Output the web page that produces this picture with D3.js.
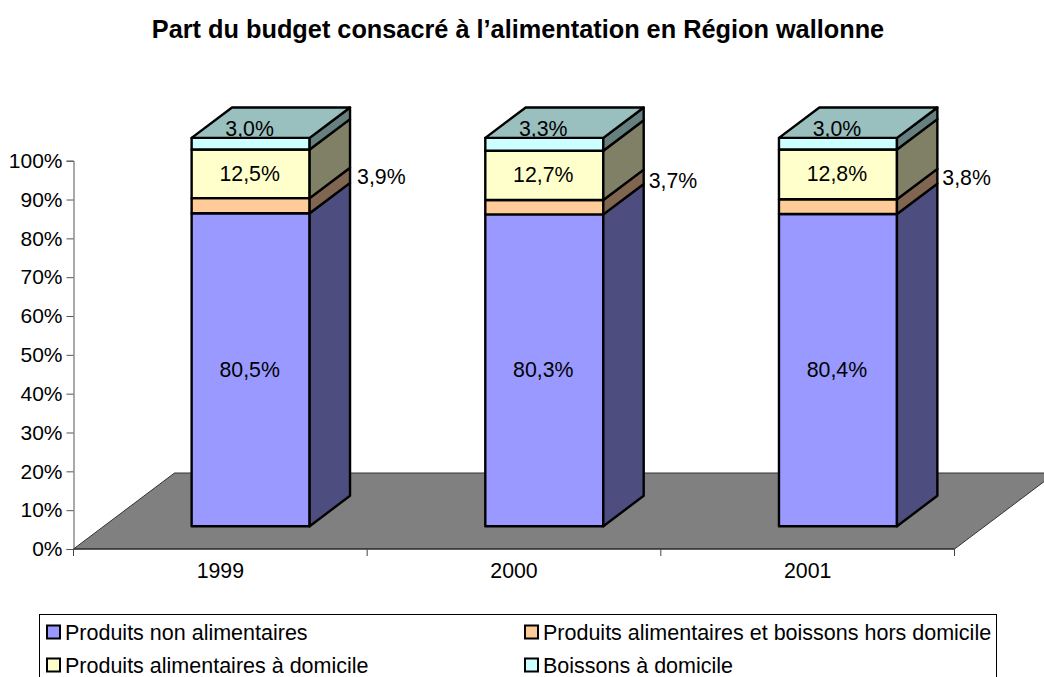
<!DOCTYPE html>
<html><head><meta charset="utf-8">
<script src="https://cdnjs.cloudflare.com/ajax/libs/d3/7.8.5/d3.min.js"></script>
<style>html,body{margin:0;padding:0;background:#fff;overflow:hidden}svg{display:block}text{font-family:"Liberation Sans",Arial,sans-serif;fill:#000}</style>
</head><body><svg id="c" width="1044" height="677"></svg>
<script>
const title = "Part du budget consacré à l’alimentation en Région wallonne";
const years = ["1999","2000","2001"];
const seriesNames = ["Produits non alimentaires","Produits alimentaires et boissons hors domicile","Produits alimentaires à domicile","Boissons à domicile"];
const nonAlim = [80.5,80.3,80.4];
const horsDomicile = [3.9,3.7,3.8];
const aDomicile = [12.5,12.7,12.8];
const boissons = [3.0,3.3,3.0];
const frontColors = ["#9999FF","#FFCC99","#FFFFCC","#CCFFFF"];
const sideColors = ["#4D4D80","#806650","#808066","#668080"];
const topColor = "#99BFBF";
const yTicks = [0,10,20,30,40,50,60,70,80,90,100];

const svg = d3.select("#c");
const FS="21.3px";
const fmt = v => v.toFixed(1).replace(".",",")+"%";
const rows = years.map((y,i)=>({year:y,s0:nonAlim[i],s1:horsDomicile[i],s2:aDomicile[i],s3:boissons[i]}));
const stack = d3.stack().keys(["s0","s1","s2","s3"]).offset(d3.stackOffsetExpand)(rows);

const x = d3.scaleBand().domain(years).range([73.5,954.5]).paddingInner(0).paddingOuter(0);
const y = d3.scaleLinear().domain([0,1]).range([549,160.7]);
const DX=101, DY=76;
const d0=0.30, d1=0.70;
const barW=118;
const px=(xv,d)=>xv+d*DX, py=(v,d)=>y(v)-d*DY;
const L=c=>x(c)+x.bandwidth()/2-barW/2, R=c=>L(c)+barW;

svg.append("text").attr("x",518).attr("y",38).attr("text-anchor","middle")
  .style("font-size","25.3px").style("font-weight","bold").text(title);

// floor
const fl=d3.line()([[px(73.5,0),py(0,0)],[px(73.5,1),py(0,1)],[px(954.5,1),py(0,1)],[px(954.5,0),py(0,0)]])+"Z";
svg.append("path").attr("d",fl).attr("fill","#808080").attr("stroke","#333").attr("stroke-width",1);

// axes
const yAxis=d3.axisLeft(y).tickValues(yTicks.map(t=>t/100)).tickFormat(d=>Math.round(d*100)+"%").tickSize(7).tickPadding(4);
const gy=svg.append("g").attr("transform","translate(73.5,0)").call(yAxis);
gy.selectAll("text").style("font-size","21px").attr("fill","#000");
gy.selectAll("line,path").attr("stroke","#555");
const xAxis=d3.axisBottom(d3.scaleBand().domain(years).range([73.5,954.5])).tickSize(0).tickPadding(14);
const gx=svg.append("g").attr("transform","translate(0,549)").call(xAxis);
gx.selectAll("text").style("font-size",FS);
gx.selectAll("path").attr("stroke","#222").attr("d","M73.5,0H954.5");
years.concat(["end"]).forEach((c,i)=>{
  const xx=i<3?x(c):954.5;
  gx.append("line").attr("x1",xx).attr("x2",xx).attr("y1",0).attr("y2",7).attr("stroke","#444");
});

// bars
const bars=svg.append("g").attr("stroke","#000").attr("stroke-width",2.4).attr("stroke-linejoin","round");
years.forEach((c,ci)=>{
  const l=px(L(c),d0), r=px(R(c),d0), r2=px(R(c),d1), l2=px(L(c),d1);
  stack.forEach((s,si)=>{
    const [a,b]=s[ci];
    const ya=py(a,d0), yb=py(b,d0), ya2=py(a,d1), yb2=py(b,d1);
    bars.append("path").attr("d",d3.line()([[l,ya],[r,ya],[r,yb],[l,yb]])+"Z").attr("fill",frontColors[si]);
    bars.append("path").attr("d",d3.line()([[r,ya],[r2,ya2],[r2,yb2],[r,yb]])+"Z").attr("fill",sideColors[si]);
  });
  const t=stack[3][ci][1];
  bars.append("path").attr("d",d3.line()([[l,py(t,d0)],[r,py(t,d0)],[r2,py(t,d1)],[l2,py(t,d1)]])+"Z").attr("fill",topColor);
});

// data labels
const labels=svg.append("g").style("font-size",FS);
stack.forEach((s,si)=>{
  years.forEach((c,ci)=>{
    const [a,b]=s[ci];
    const val=rows[ci]["s"+si];
    const mid=py((a+b)/2,d0);
    const cx=px((L(c)+R(c))/2,d0);
    const t=labels.append("text").attr("dominant-baseline","central").text(fmt(val));
    if(si===1){
      t.attr("x",px(R(c),d1)+(ci===0?7:5)).attr("y",mid-(ci===1?26:29));
    } else if(si===3){
      t.attr("x",cx-1).attr("y",mid-15).attr("text-anchor","middle");
    } else {
      t.attr("x",cx-1).attr("y",mid).attr("text-anchor","middle");
    }
  });
});

// legend
const legend=svg.append("g");
legend.append("rect").attr("x",39.5).attr("y",614.5).attr("width",957).attr("height",80).attr("fill","#fff").attr("stroke","#000");
const lx=[47,525], ly=[632,665];
seriesNames.forEach((n,i)=>{
  const col=i%2, row=Math.floor(i/2);
  legend.append("rect").attr("x",lx[col]).attr("y",ly[row]-6.5).attr("width",13).attr("height",13)
    .attr("fill",frontColors[i]).attr("stroke","#000").attr("stroke-width",2);
  legend.append("text").attr("x",lx[col]+18).attr("y",ly[row]+0.7).attr("dominant-baseline","central").style("font-size","21.5px").text(n);
});
</script></body></html>
